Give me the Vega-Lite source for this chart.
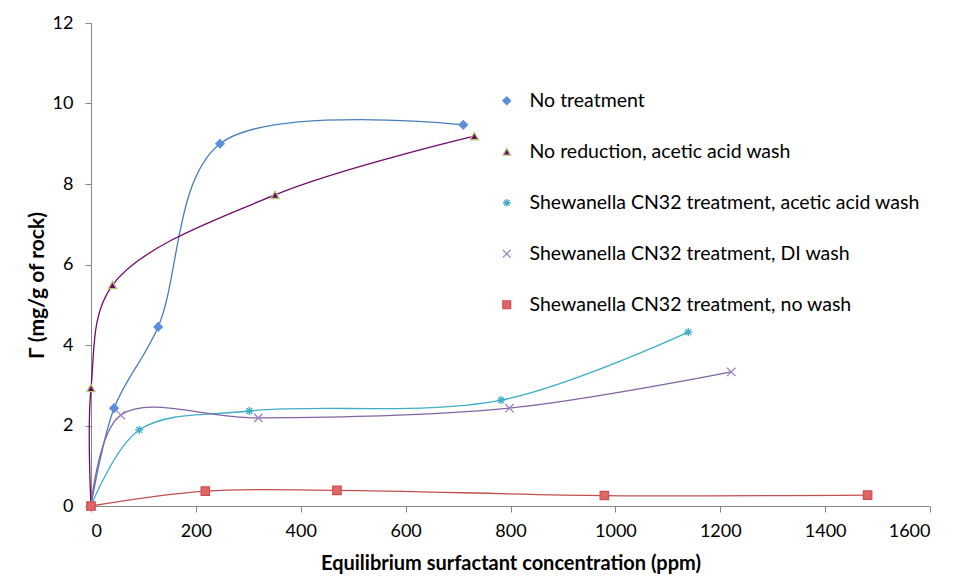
{
  "$schema": "https://vega.github.io/schema/vega-lite/v6.json",
  "autosize": "none",
  "width": 839,
  "height": 483,
  "padding": {"left": 91, "top": 23, "right": 24, "bottom": 79},
  "background": "white",
  "config": {"view": {"stroke": null}, "font": "Lato",
    "legend": {"title": null, "orient": "none", "legendX": 406, "legendY": 68, "rowPadding": 30,
      "labelFontSize": 19.5, "labelFont": "Lato", "labelColor": "#000", "symbolSize": 60, "labelOffset": 13, "labelLimit": 500, "symbolStrokeWidth": 1.3}},
  "data": {"values": [
    {"s": "No treatment", "x": 0, "y": 0},
    {"s": "No treatment", "x": 44, "y": 2.43},
    {"s": "No treatment", "x": 128, "y": 4.45},
    {"s": "No treatment", "x": 246, "y": 9.0},
    {"s": "No treatment", "x": 710, "y": 9.47},
    {"s": "No reduction,  acetic acid wash", "x": 0, "y": 0},
    {"s": "No reduction,  acetic acid wash", "x": 0, "y": 2.93},
    {"s": "No reduction,  acetic acid wash", "x": 41, "y": 5.49},
    {"s": "No reduction,  acetic acid wash", "x": 351, "y": 7.73},
    {"s": "No reduction,  acetic acid wash", "x": 731, "y": 9.19},
    {"s": "Shewanella CN32 treatment, acetic acid wash", "x": 0, "y": 0},
    {"s": "Shewanella CN32 treatment, acetic acid wash", "x": 92, "y": 1.89},
    {"s": "Shewanella CN32 treatment, acetic acid wash", "x": 302, "y": 2.36},
    {"s": "Shewanella CN32 treatment, acetic acid wash", "x": 782, "y": 2.63},
    {"s": "Shewanella CN32 treatment, acetic acid wash", "x": 1139, "y": 4.32},
    {"s": "Shewanella CN32 treatment, DI wash", "x": 0, "y": 0},
    {"s": "Shewanella CN32 treatment, DI wash", "x": 57, "y": 2.26},
    {"s": "Shewanella CN32 treatment, DI wash", "x": 319, "y": 2.19},
    {"s": "Shewanella CN32 treatment, DI wash", "x": 798, "y": 2.43},
    {"s": "Shewanella CN32 treatment, DI wash", "x": 1221, "y": 3.33},
    {"s": "Shewanella CN32 treatment, no wash", "x": 0, "y": 0},
    {"s": "Shewanella CN32 treatment, no wash", "x": 218, "y": 0.37},
    {"s": "Shewanella CN32 treatment, no wash", "x": 469, "y": 0.39},
    {"s": "Shewanella CN32 treatment, no wash", "x": 979, "y": 0.26},
    {"s": "Shewanella CN32 treatment, no wash", "x": 1481, "y": 0.27}
  ]},
  "encoding": {
    "x": {"field": "x", "type": "quantitative",
      "scale": {"domain": [0, 1600], "nice": false, "zero": false},
      "axis": {"title": "Equilibrium surfactant concentration (ppm)", "values": [0,200,400,600,800,1000,1200,1400,1600], "format": "d",
        "grid": false, "domainColor": "#868686", "tickColor": "#868686", "tickSize": 6,
        "labelFontSize": 18, "labelPadding": 10, "labelColor": "#000",
        "titleFontSize": 20, "titleFontWeight": "bold", "titleColor": "#000", "titlePadding": 13, "labelFont": "Lato", "titleFont": "Lato"}},
    "y": {"field": "y", "type": "quantitative",
      "scale": {"domain": [0, 12], "nice": false},
      "axis": {"title": "Γ (mg/g of rock)", "values": [0,2,4,6,8,10,12],
        "grid": false, "domainColor": "#868686", "tickColor": "#868686", "tickSize": 6,
        "labelFontSize": 18, "labelPadding": 12, "labelColor": "#000",
        "titleFontSize": 21, "titleFontWeight": "bold", "titleColor": "#000", "titlePadding": 5, "titleY": 262, "labelFont": "Lato", "titleFont": "Lato"}}
  },
  "layer": [
    {
      "mark": {"type": "line", "interpolate": "catmull-rom", "strokeWidth": 1.3},
      "encoding": {
        "color": {"field": "s", "type": "nominal", "legend": null,
          "scale": {"range": ["#720a6e", "#4a7ebb", "#8064a2", "#3fadc8", "#c0504d"]}},
        "detail": {"field": "s"}
      }
    },
    {
      "mark": {"type": "point", "strokeWidth": 1.3, "opacity": 1},
      "encoding": {
        "shape": {"field": "s", "type": "nominal",
          "scale": {"domain": ["No treatment", "No reduction,  acetic acid wash", "Shewanella CN32 treatment, acetic acid wash", "Shewanella CN32 treatment, DI wash", "Shewanella CN32 treatment, no wash"],
            "range": ["diamond", "triangle-up", "M-1,0L1,0M0,-1L0,1M-0.7,-0.7L0.7,0.7M-0.7,0.7L0.7,-0.7", "M-1,-1L1,1M-1,1L1,-1", "square"]}},
        "fill": {"field": "s", "type": "nominal",
          "scale": {"domain": ["No treatment", "No reduction,  acetic acid wash", "Shewanella CN32 treatment, acetic acid wash", "Shewanella CN32 treatment, DI wash", "Shewanella CN32 treatment, no wash"],
            "range": ["#5b8fdc", "#6e0a6a", "transparent", "transparent", "#e06666"]}},
        "stroke": {"field": "s", "type": "nominal",
          "scale": {"domain": ["No treatment", "No reduction,  acetic acid wash", "Shewanella CN32 treatment, acetic acid wash", "Shewanella CN32 treatment, DI wash", "Shewanella CN32 treatment, no wash"],
            "range": ["#5b8fdc", "#b5c77a", "#3fadc8", "#9a82c0", "#d05050"]}},
        "size": {"value": 70}
      }
    }
  ]
}
